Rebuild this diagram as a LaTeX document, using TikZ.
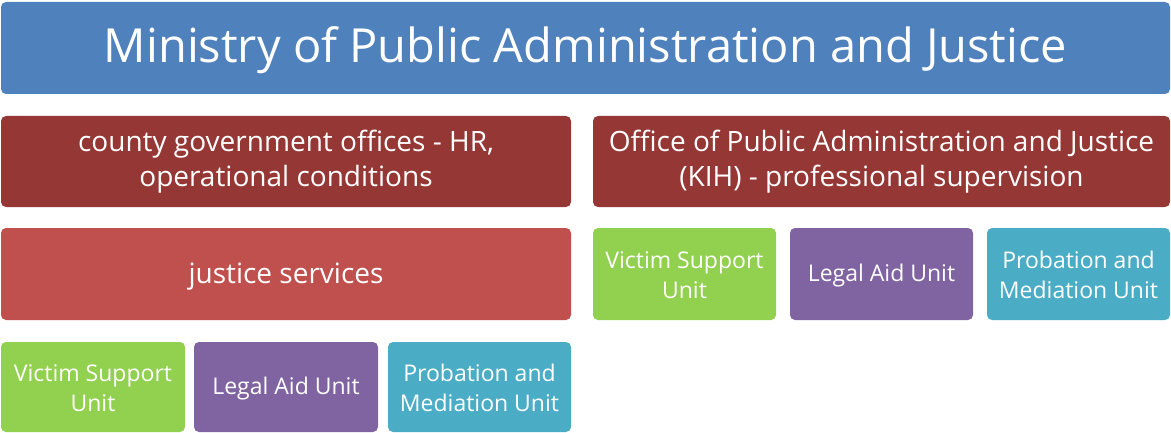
\documentclass[tikz,border=0pt]{standalone}
\usepackage{fontspec}
\setmainfont{Open Sans}
\definecolor{cblue}{HTML}{4F81BD}
\definecolor{cdred}{HTML}{953735}
\definecolor{cred}{HTML}{C0504D}
\definecolor{cgreen}{HTML}{92D050}
\definecolor{cpurple}{HTML}{8064A2}
\definecolor{cteal}{HTML}{4BACC6}
\newcommand{\boxtext}[2]{\raisebox{-#1}[\height][\depth]{\begin{tabular}{@{}c@{}}#2\end{tabular}}}
\tikzset{
  box/.style={rectangle, rounded corners=5pt, inner sep=0pt, outer sep=0pt, text=white},
  titlebox/.style={box, fill=cblue, font=\fontsize{47}{56}\selectfont},
  midbox/.style={box, font=\fontsize{28}{35}\selectfont},
  unitbox/.style={box, font=\fontsize{23}{29.2}\selectfont},
}
\begin{document}
\begin{tikzpicture}[x=1pt,y=1pt]
\useasboundingbox (0,0) rectangle (1171,432);
\node[titlebox, minimum width=1169pt, minimum height=92pt] (title) at (585.5,384) {\boxtext{3.8pt}{Ministry of Public Administration and Justice}};
\node[midbox, fill=cdred, minimum width=570pt, minimum height=91pt] (county) at (286,270.5) {\boxtext{0.7pt}{county government offices - HR,\\operational conditions}};
\node[midbox, fill=cdred, minimum width=577pt, minimum height=91pt] (kih) at (881.5,270.5) {\boxtext{0.7pt}{Office of Public Administration and Justice\\(KIH) - professional supervision}};
\node[midbox, fill=cred, minimum width=570pt, minimum height=92pt] (justice) at (286,158) {\boxtext{2pt}{justice services}};
\node[unitbox, fill=cgreen, minimum width=183pt, minimum height=92pt] (rv) at (684.5,158) {\boxtext{3.6pt}{Victim Support\\Unit}};
\node[unitbox, fill=cpurple, minimum width=183pt, minimum height=92pt] (rl) at (881.5,158) {\boxtext{1.9pt}{Legal Aid Unit}};
\node[unitbox, fill=cteal, minimum width=183pt, minimum height=92pt] (rp) at (1078.5,158) {\boxtext{3.6pt}{Probation and\\Mediation Unit}};
\node[unitbox, fill=cgreen, minimum width=184pt, minimum height=90pt] (lv) at (93,45) {\boxtext{3.6pt}{Victim Support\\Unit}};
\node[unitbox, fill=cpurple, minimum width=184pt, minimum height=90pt] (ll) at (286,45) {\boxtext{1.9pt}{Legal Aid Unit}};
\node[unitbox, fill=cteal, minimum width=183pt, minimum height=90pt] (lp) at (479.5,45) {\boxtext{3.6pt}{Probation and\\Mediation Unit}};
\end{tikzpicture}
\end{document}
